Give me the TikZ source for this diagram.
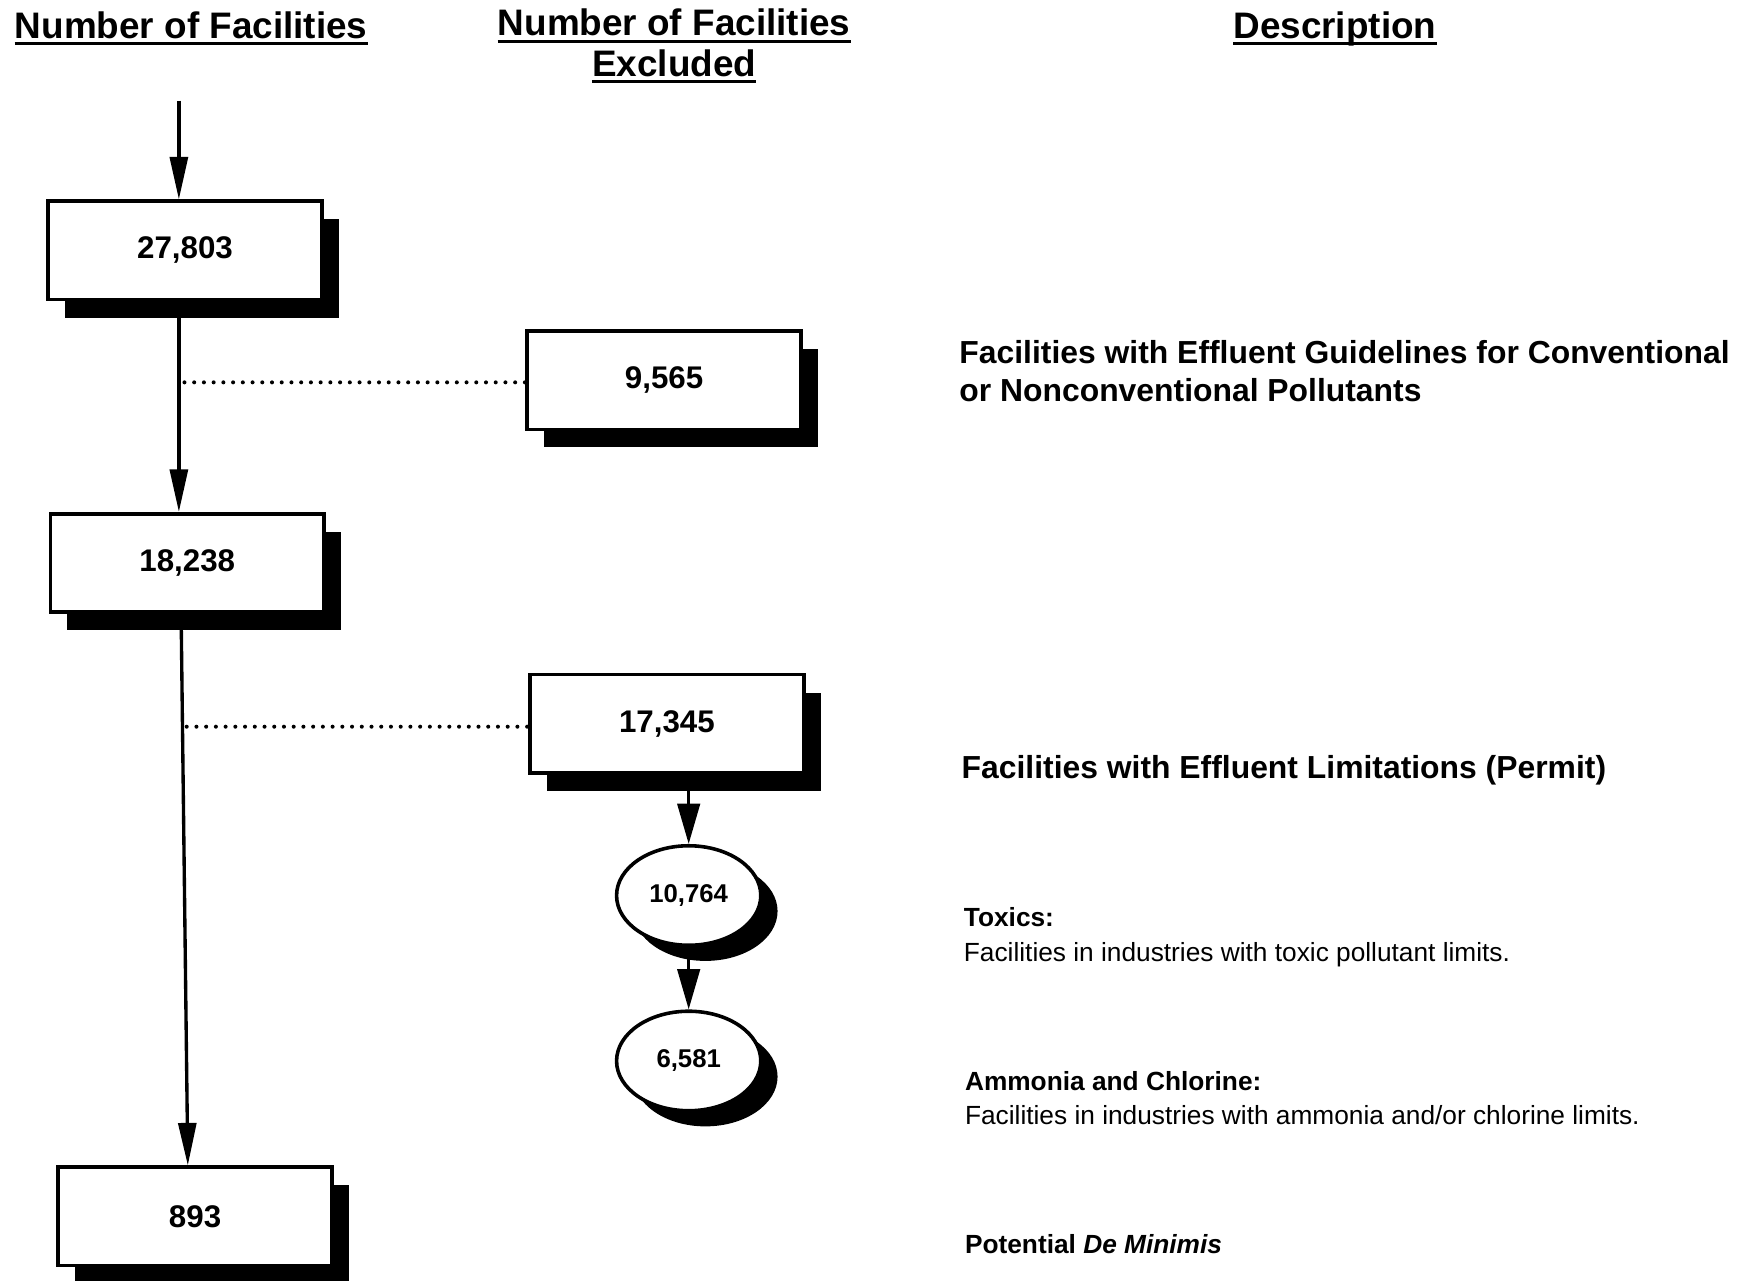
\documentclass[tikz,border=0pt]{standalone}
\usepackage{fontspec}
\setmainfont{Liberation Sans}
\usetikzlibrary{shadows,arrows.meta,shapes.geometric}
\begin{document}
\begin{tikzpicture}[x=1pt,y=-1pt,
  box/.style={draw,line width=3.2pt,fill=white,minimum width=245pt,minimum height=88pt,inner sep=0pt,
    font=\fontsize{28}{30}\selectfont\bfseries,
    drop shadow={shadow xshift=15pt,shadow yshift=-16pt,fill=black,opacity=1}},
  oval/.style={ellipse,draw,line width=3.2pt,fill=white,minimum width=129pt,minimum height=89pt,inner sep=0pt,
    font=\fontsize{23}{25}\selectfont\bfseries,
    drop shadow={shadow xshift=15pt,shadow yshift=-14pt,fill=black,opacity=1}},
  arr/.style={line width=3pt,-{Triangle[length=38pt,width=16pt]}},
  arrs/.style={line width=3pt,-{Triangle[length=36pt,width=20pt]}},
  dots/.style={line width=3.6pt,line cap=round,dash pattern=on 0pt off 8.7pt},
  head/.style={inner sep=0pt,anchor=base,font=\fontsize{33}{34}\selectfont\bfseries},
  uline/.style={line width=3pt},
  big/.style={inner sep=0pt,anchor=base west,font=\fontsize{28.5}{34}\selectfont\bfseries},
  small/.style={inner sep=0pt,anchor=base west,font=\fontsize{23.5}{28}\selectfont},
  smallb/.style={inner sep=0pt,anchor=base west,font=\fontsize{23.5}{28}\selectfont\bfseries},
]
\useasboundingbox (0,0) rectangle (1568,1145);

% headers
\node[head] (h1) at (171,34) {Number of Facilities};
\node[head] (h2) at (603,32) {Number of Facilities};
\node[head] (h3) at (603,68) {Excluded};
\node[head] (h4) at (1194,34) {Description};
\foreach \n in {h1,h2,h3,h4}
  \draw[uline] ([yshift=-5pt]\n.base west) -- ([yshift=-5pt]\n.base east);

% main column boxes
\node[box] (a1) at (165.5,224) {27,803};
\node[box] (a2) at (167.5,503.5) {18,238};
\node[box] (a3) at (174.5,1088) {893};

% excluded boxes
\node[box] (e1) at (594,340) {9,565};
\node[box] (e2) at (596.5,647.5) {17,345};

% ovals
\node[oval] (o1) at (616,801) {10,764};
\node[oval] (o2) at (616,949) {6,581};

% arrows
\coordinate (start) at (160,90);
\draw[arr] (start) -- (start |- a1.north);
\draw[arr] ([xshift=-5.5pt]a1.south) -- ([xshift=-7.5pt]a2.north);
\draw[arr] ([xshift=-5.5pt]a2.south) -- ([xshift=-6.5pt]a3.north);
\draw[arrs] (o1.north |- e2.south) -- (o1.north);
\draw[arrs] (o1.south) -- (o2.north);

% dotted links
\coordinate (v1) at (165,342);
\draw[dots] (v1) -- (v1 -| e1.west);
\coordinate (v2) at (167,650);
\draw[dots] (v2) -- (v2 -| e2.west);

% descriptions
\node[big] (t1) at (858,325) {Facilities with Effluent Guidelines for Conventional};
\node[big] (t2) at (858,359) {or Nonconventional Pollutants};
\node[big] (t3) at (860,696) {Facilities with Effluent Limitations (Permit)};
\node[smallb] (t4) at (862,829) {Toxics:};
\node[small] (t5) at (862,860) {Facilities in industries with toxic pollutant limits.};
\node[smallb] (t6) at (863,975) {Ammonia and Chlorine:};
\node[small] (t7) at (863,1006) {Facilities in industries with ammonia and/or chlorine limits.};
\node[smallb] (t8) at (863,1121) {Potential \textit{De Minimis}};
\end{tikzpicture}
\end{document}
